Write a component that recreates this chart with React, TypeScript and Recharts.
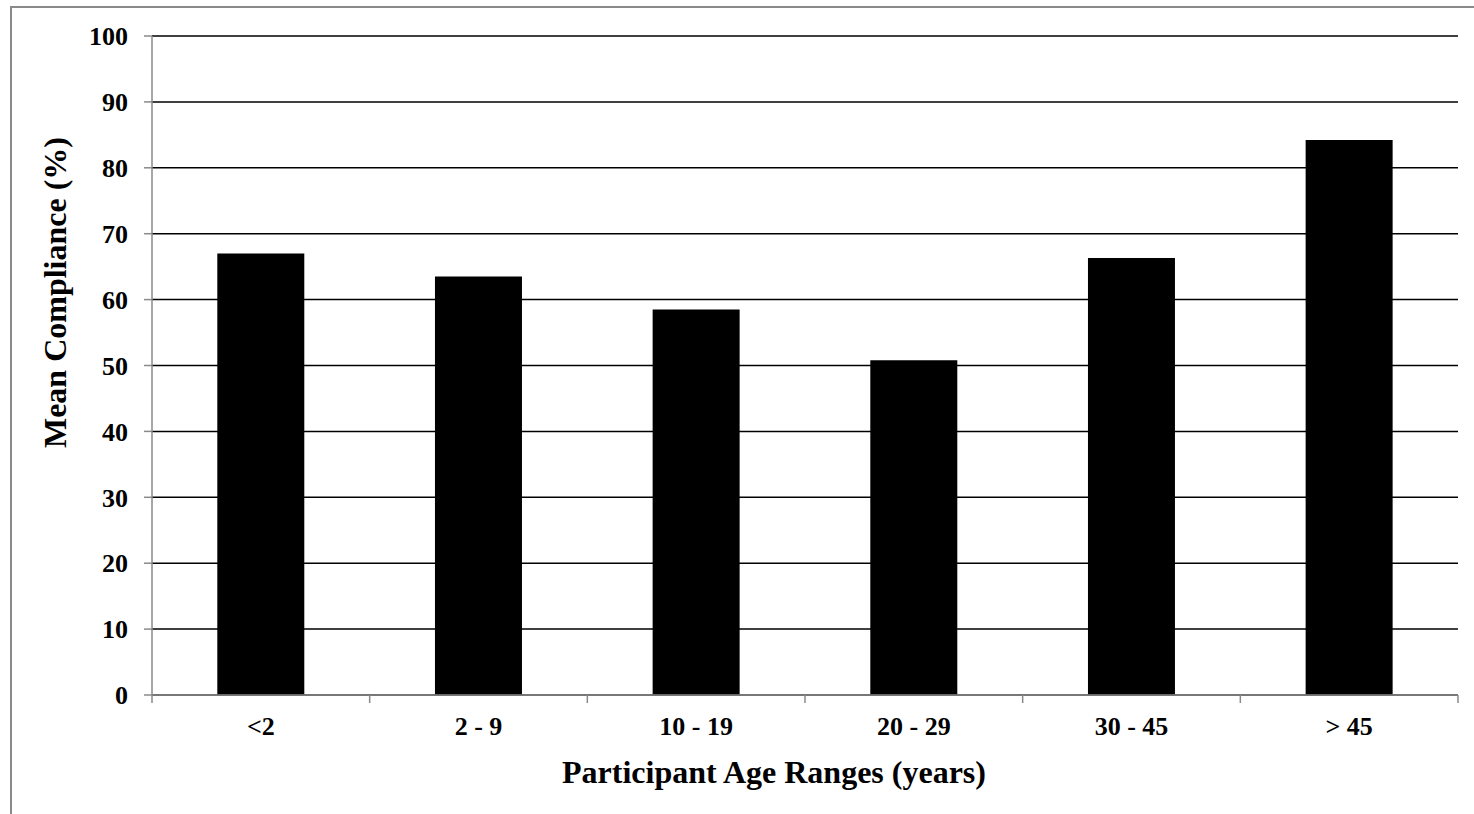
import React from 'react';
import { BarChart, Bar, XAxis, YAxis, CartesianGrid, Label } from 'recharts';

const ageRanges = ['<2', '2 - 9', '10 - 19', '20 - 29', '30 - 45', '> 45'];
const meanCompliance = [67.0, 63.5, 58.5, 50.8, 66.3, 84.2];
const yTicks = [0, 10, 20, 30, 40, 50, 60, 70, 80, 90, 100];

const data = ageRanges.map((name, i) => ({ name, value: meanCompliance[i] }));

const FONT = '"Liberation Serif", "Times New Roman", serif';
const AXIS_GRAY = '#8a8a8a';

const AgeTick = (props: any) => {
    const { x, y, payload, index } = props;
    const half = payload.offset || 0;
    return (
        <g>
            <line x1={x - half} x2={x - half} y1={y} y2={y + 8} stroke={AXIS_GRAY} strokeWidth={1.5} />
            {index === ageRanges.length - 1 && (
                <line x1={x + half} x2={x + half} y1={y} y2={y + 8} stroke={AXIS_GRAY} strokeWidth={1.5} />
            )}
            <text x={x} y={y + 40} textAnchor="middle" fontFamily={FONT} fontWeight="bold" fontSize={26} fill="#000">
                {payload.value}
            </text>
        </g>
    );
};

const YTitle = (props: any) => {
    const vb = props.viewBox;
    const cx = vb.x + vb.width - 97;
    const cy = vb.y + vb.height / 2 - 73;
    return (
        <text x={cx} y={cy} transform={`rotate(-90, ${cx}, ${cy})`} textAnchor="middle" dominantBaseline="central"
            fontFamily={FONT} fontWeight="bold" fontSize={32} fill="#000">
            Mean Compliance (%)
        </text>
    );
};

const XTitle = (props: any) => {
    const vb = props.viewBox;
    return (
        <text x={vb.x + vb.width / 2 - 31} y={vb.y + 88} textAnchor="middle"
            fontFamily={FONT} fontWeight="bold" fontSize={32} fill="#000">
            Participant Age Ranges (years)
        </text>
    );
};

const App: React.FC = () => {
    return (
        <div style={{ position: 'fixed', left: 0, top: 0, width: 1474, height: 814, overflow: 'hidden', background: '#fff' }}>
            <div style={{ position: 'absolute', left: 10, top: 6, width: 1600, height: 900, borderTop: `2px solid ${AXIS_GRAY}`, borderLeft: `2px solid ${AXIS_GRAY}` }} />
            <div style={{ position: 'absolute', left: 0, top: 0 }}>
                <BarChart width={1474} height={814} data={data} margin={{ top: 36, right: 16, bottom: 0, left: 0 }} barCategoryGap="30%">
                    <CartesianGrid vertical={false} stroke="#000" strokeWidth={1.5} />
                    <XAxis dataKey="name" height={119} tickSize={0} tickMargin={0} tickLine={false}
                        axisLine={{ stroke: AXIS_GRAY, strokeWidth: 1.5 }} tick={<AgeTick />} interval={0}>
                        <Label content={<XTitle />} />
                    </XAxis>
                    <YAxis width={152} domain={[0, 100]} ticks={yTicks} interval={0} tickSize={8} tickMargin={16}
                        axisLine={{ stroke: AXIS_GRAY, strokeWidth: 1.5 }} tickLine={{ stroke: AXIS_GRAY, strokeWidth: 1.5 }}
                        tick={{ fontFamily: FONT, fontWeight: 'bold', fontSize: 26, fill: '#000' }}>
                        <Label content={<YTitle />} />
                    </YAxis>
                    <Bar dataKey="value" fill="#000" isAnimationActive={false} />
                </BarChart>
            </div>
        </div>
    );
};

export default App;
